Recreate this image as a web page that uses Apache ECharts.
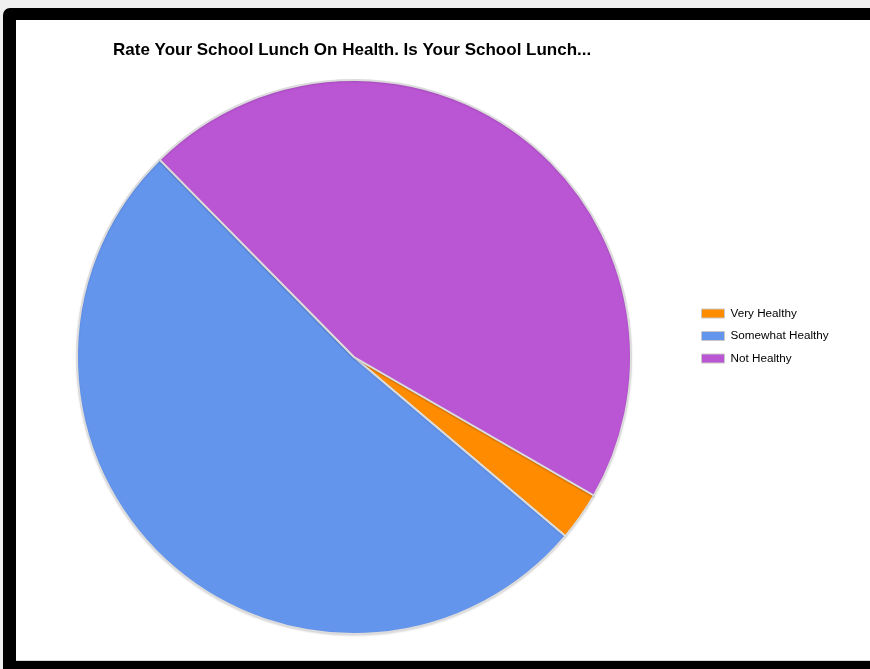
<!DOCTYPE html>
<html>
<head>
<meta charset="utf-8">
<script src="https://cdn.jsdelivr.net/npm/echarts@6/dist/echarts.min.js"></script>
<style>
  html, body { margin: 0; padding: 0; width: 870px; height: 669px; overflow: hidden; background: #f0f0f0; }
  #frame { position: absolute; left: 3px; top: 8px; width: 900px; height: 700px; background: #000; border-radius: 7px 0 0 0; }
  #panel { position: absolute; left: 16px; top: 20px; width: 900px; height: 640px; background: #fff; border-bottom: 1px solid #d8d8d8; }
  #chart { position: absolute; left: 0; top: 0; width: 870px; height: 669px; }
</style>
</head>
<body>
<div id="frame"></div>
<div id="panel"></div>
<div id="chart"></div>
<script>
// Survey answers: how healthy is the school lunch
const categories = ['Very Healthy', 'Somewhat Healthy', 'Not Healthy'];
const responses = [1, 18, 16];
const sliceColors = ['#FF8C00', '#6495ED', '#BA55D3'];
const titleText = 'Rate Your School Lunch On Health. Is Your School Lunch...';

const chart = echarts.init(document.getElementById('chart'), null, { renderer: 'canvas' });

chart.setOption({
  backgroundColor: 'transparent',
  animation: false,
  title: {
    text: titleText,
    left: 113,
    top: 42,
    padding: 0,
    textStyle: {
      fontFamily: 'Liberation Sans, Arial, sans-serif',
      fontSize: 17,
      fontWeight: 'bold',
      color: '#000'
    }
  },
  legend: {
    orient: 'vertical',
    left: 701,
    top: 307,
    padding: 0,
    itemWidth: 23,
    itemHeight: 9,
    itemGap: 9.5,
    icon: 'rect',
    selectedMode: false,
    itemStyle: { borderColor: '#c8c8c8', borderWidth: 1 },
    textStyle: {
      fontFamily: 'Liberation Sans, Arial, sans-serif',
      fontSize: 11.7,
      lineHeight: 13,
      color: '#000',
      padding: [0, 0, 0, 1]
    },
    data: categories
  },
  series: [{
    type: 'pie',
    center: [354, 357],
    radius: [0, 277],
    startAngle: -30,
    clockwise: true,
    silent: true,
    label: { show: false },
    labelLine: { show: false },
    itemStyle: {
      borderColor: '#dcdcdc',
      borderWidth: 2,
      shadowColor: 'rgba(0,0,0,0.12)',
      shadowBlur: 2,
      shadowOffsetY: 1
    },
    data: categories.map((name, i) => ({
      name,
      value: responses[i],
      itemStyle: { color: sliceColors[i] }
    }))
  }]
});
</script>
</body>
</html>
